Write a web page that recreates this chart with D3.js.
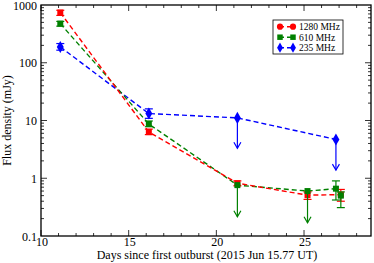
<!DOCTYPE html>
<html>
<head>
<meta charset="utf-8">
<script src="https://cdn.jsdelivr.net/npm/d3@7"></script>
<style>
  body { margin: 0; background: #fff; }
  text { font-family: "Liberation Serif", "Times New Roman", serif; }
</style>
</head>
<body>
<script>
// data
var redDays = [11.1, 16.15, 21.2, 25.2, 27.1];
var redFlux = [740, 6.3, 0.82, 0.51, 0.52];
var redLo = [660, 5.7, 0.74, 0.43, 0.40];
var redHi = [810, 7.1, 0.90, 0.58, 0.64];

var greenDays = [11.1, 16.15, 21.2, 25.2, 26.82, 27.1];
var greenFlux = [476, 8.7, 0.76, 0.60, 0.66, 0.50];
var greenLo = [430, 7.8, null, null, 0.42, 0.31];
var greenHi = [520, 9.8, null, null, 0.90, 0.58];
var greenLimit = [false, false, true, true, false, false];
var greenArrowTo = [null, null, 0.215, 0.17, null, null];

var blueDays = [11.1, 16.15, 21.2, 26.82];
var blueFlux = [188, 13.2, 11.1, 4.7];
var blueLo = [165, 10.9, null, null];
var blueHi = [215, 15.9, null, null];
var blueLimit = [false, false, true, true];
var blueArrowTo = [null, null, 3.3, 1.38];

var yTickValues = [0.1, 1, 10, 100, 1000];
var yTickLabels = ['0.1', '1', '10', '100', '1000'];
var xTickValues = [10, 15, 20, 25];
var legendLabels = ['1280 MHz', '610 MHz', '235 MHz'];

var svgWidth = 374, svgHeight = 263;
var plotL = 41, plotR = 371, plotT = 5, plotB = 236;

var svg = d3.select('body').append('svg')
  .attr('width', svgWidth).attr('height', svgHeight);

var x = d3.scaleLinear().domain([10, 28.82]).range([plotL, plotR]);
var y = d3.scaleLog().domain([0.1, 1000]).range([plotB, plotT]);

// minor tick positions
var xMinor = d3.range(10, 29, 1).filter(function (d) { return d % 5 != 0; });
var yMinor = [];
[0.1, 1, 10, 100].forEach(function (b) {
  for (var k = 2; k <= 9; k++) yMinor.push(b * k);
});

var axisColor = '#000';

// ticks pointing inward, mirrored on all four sides
function drawTicks(g, vals, len, scale, orient) {
  g.selectAll(null).data(vals).enter().append('line')
    .attr('x1', function (d) { return orient == 'b' || orient == 't' ? scale(d) : (orient == 'l' ? plotL : plotR); })
    .attr('x2', function (d) { return orient == 'b' || orient == 't' ? scale(d) : (orient == 'l' ? plotL + len : plotR - len); })
    .attr('y1', function (d) { return orient == 'l' || orient == 'r' ? scale(d) : (orient == 'b' ? plotB : plotT); })
    .attr('y2', function (d) { return orient == 'l' || orient == 'r' ? scale(d) : (orient == 'b' ? plotB - len : plotT + len); })
    .attr('stroke', axisColor).attr('stroke-width', 0.8);
}
var tg = svg.append('g');
['b', 't'].forEach(function (o) {
  drawTicks(tg, xTickValues, 6, x, o);
  drawTicks(tg, xMinor, 3, x, o);
});
['l', 'r'].forEach(function (o) {
  drawTicks(tg, yTickValues.slice(1, 4), 6, y, o);
  drawTicks(tg, yMinor, 3, y, o);
});

svg.append('rect')
  .attr('x', plotL).attr('y', plotT)
  .attr('width', plotR - plotL).attr('height', plotB - plotT)
  .attr('fill', 'none').attr('stroke', axisColor).attr('stroke-width', 1.3);

// tick labels
svg.selectAll('.xl').data(xTickValues).enter().append('text')
  .attr('x', function (d) { return x(d) + 1; })
  .attr('y', 246)
  .attr('text-anchor', 'middle')
  .attr('font-size', 12)
  .text(function (d) { return d; });

svg.selectAll('.yl').data(yTickValues).enter().append('text')
  .attr('x', 37)
  .attr('y', function (d) { return y(d) + 4.5; })
  .attr('text-anchor', 'end')
  .attr('font-size', 12)
  .text(function (d, i) { return yTickLabels[i]; });

svg.append('text')
  .attr('x', (96 + 318) / 2).attr('y', 259)
  .attr('text-anchor', 'middle').attr('font-size', 12)
  .text('Days since first outburst (2015 Jun 15.77 UT)');

svg.append('text')
  .attr('transform', 'translate(11,' + ((plotT + plotB) / 2) + ') rotate(-90)')
  .attr('text-anchor', 'middle').attr('font-size', 12)
  .text('Flux density (mJy)');

// series
var series = [
  { color: '#ff0000', days: redDays, flux: redFlux, lo: redLo, hi: redHi, limit: null, to: null, shape: d3.symbolSquare, size: 36 },
  { color: '#008000', days: greenDays, flux: greenFlux, lo: greenLo, hi: greenHi, limit: greenLimit, to: greenArrowTo, shape: d3.symbolSquare, size: 36 },
  { color: '#0000ff', days: blueDays, flux: blueFlux, lo: blueLo, hi: blueHi, limit: blueLimit, to: blueArrowTo, shape: d3.symbolDiamond, size: 42 }
];

var line = d3.line()
  .x(function (d) { return x(d[0]); })
  .y(function (d) { return y(d[1]); });

// lines first, drawn blue, green, red like the picture
series.slice().reverse().forEach(function (s) {
  var pts = s.days.map(function (d, i) { return [d, s.flux[i]]; });
  svg.append('path')
    .attr('d', line(pts))
    .attr('fill', 'none')
    .attr('stroke', s.color)
    .attr('stroke-width', 1.4)
    .attr('stroke-dasharray', '5,3');
});

series.forEach(function (s) {
  var g = svg.append('g');
  s.days.forEach(function (d, i) {
    var cx = x(d);
    if (s.lo[i] != null) {
      g.append('line').attr('x1', cx).attr('x2', cx)
        .attr('y1', y(s.lo[i])).attr('y2', y(s.hi[i]))
        .attr('stroke', s.color).attr('stroke-width', 1.2);
      [s.lo[i], s.hi[i]].forEach(function (v) {
        g.append('line').attr('x1', cx - 4).attr('x2', cx + 4)
          .attr('y1', y(v)).attr('y2', y(v))
          .attr('stroke', s.color).attr('stroke-width', 1.2);
      });
    }
    if (s.limit && s.limit[i]) {
      var y0 = y(s.flux[i]), y1 = y(s.to[i]);
      g.append('line').attr('x1', cx).attr('x2', cx)
        .attr('y1', y0).attr('y2', y1)
        .attr('stroke', s.color).attr('stroke-width', 1.2);
      g.append('path')
        .attr('d', 'M' + (cx - 3.5) + ',' + (y1 - 6) + 'L' + cx + ',' + y1 + 'L' + (cx + 3.5) + ',' + (y1 - 6))
        .attr('fill', 'none').attr('stroke', s.color).attr('stroke-width', 1.2);
    }
    g.append('path')
      .attr('d', d3.symbol().type(s.shape).size(s.size)())
      .attr('transform', 'translate(' + cx + ',' + y(s.flux[i]) + ')')
      .attr('fill', s.color);
  });
});

// legend
var lg = svg.append('g');
lg.append('rect')
  .attr('x', 273).attr('y', 20).attr('width', 70).attr('height', 34)
  .attr('fill', '#fff').attr('stroke', '#000').attr('stroke-width', 0.8);
var legendShapes = [d3.symbolCircle, d3.symbolSquare, d3.symbolDiamond];
legendLabels.forEach(function (lab, i) {
  var ly = 26.7 + i * 10.5;
  var s = series[i];
  lg.append('line').attr('x1', 280).attr('x2', 293).attr('y1', ly).attr('y2', ly)
    .attr('stroke', s.color).attr('stroke-width', 1.4).attr('stroke-dasharray', '4,3');
  [280, 293].forEach(function (px) {
    lg.append('path')
      .attr('d', d3.symbol().type(legendShapes[i]).size(30)())
      .attr('transform', 'translate(' + px + ',' + ly + ')')
      .attr('fill', s.color);
  });
  lg.append('text').attr('x', 299).attr('y', ly + 3.3)
    .attr('font-size', 9.5).text(lab);
});
</script>
</body>
</html>
